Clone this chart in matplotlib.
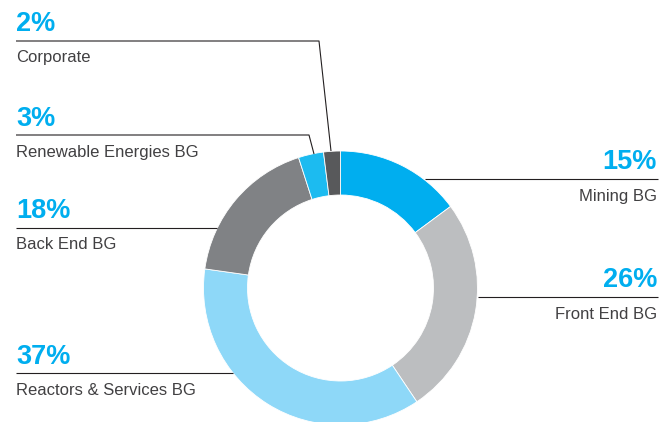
import matplotlib.pyplot as plt

# business group split (clockwise from 12 o'clock)
groups = ['Mining BG', 'Front End BG', 'Reactors & Services BG', 'Back End BG',
          'Renewable Energies BG', 'Corporate']
shares = [15, 26, 37, 18, 3, 2]
colors = ['#00aeef', '#bcbec0', '#8ed8f8', '#808285', '#1cbbf0', '#58595b']

W, H = 659, 422
BLUE = '#00aeef'
GREY = '#414042'

fig = plt.figure(figsize=(W / 100, H / 100), dpi=100)
ax = fig.add_axes([0, 0, 1, 1])

# pixel-style coordinates: y measured from the top
def Y(y):
    return H - y

ax.pie(shares, colors=colors, startangle=90, counterclock=False,
       center=(340.5, Y(288)), radius=137,
       wedgeprops=dict(width=44, edgecolor='white', linewidth=0.6))
ax.set_xlim(0, W)
ax.set_ylim(0, H)
ax.set_aspect('equal')
ax.axis('off')

# label blocks: (group index, x, pct baseline, label baseline, align, leader path)
callouts = [
    (5, 16, 31, 62, 'left', [(16, 41), (319, 41), (331, 151)]),
    (4, 16, 126, 157, 'left', [(16, 135), (309, 135), (314, 154)]),
    (3, 16, 218, 249, 'left', [(16, 228), (217, 228)]),
    (2, 16, 364, 395, 'left', [(16, 373), (233, 373)]),
    (0, 657, 169, 201, 'right', [(425, 179), (658, 179)]),
    (1, 657, 287, 319, 'right', [(478, 297), (658, 297)]),
]

for i, x, yp, yl, ha, path in callouts:
    ax.text(x, Y(yp), f'{shares[i]}%', ha=ha, va='baseline', color=BLUE,
            fontsize=19.5, fontweight='bold', family='Liberation Sans')
    ax.text(x, Y(yl), groups[i], ha=ha, va='baseline', color=GREY,
            fontsize=12, family='Liberation Sans')
    xs = [p[0] for p in path]
    ys = [Y(p[1]) for p in path]
    ax.plot(xs, ys, color='#231f20', lw=0.8, solid_capstyle='butt')

fig.savefig('out.png', dpi=100, facecolor='white')
